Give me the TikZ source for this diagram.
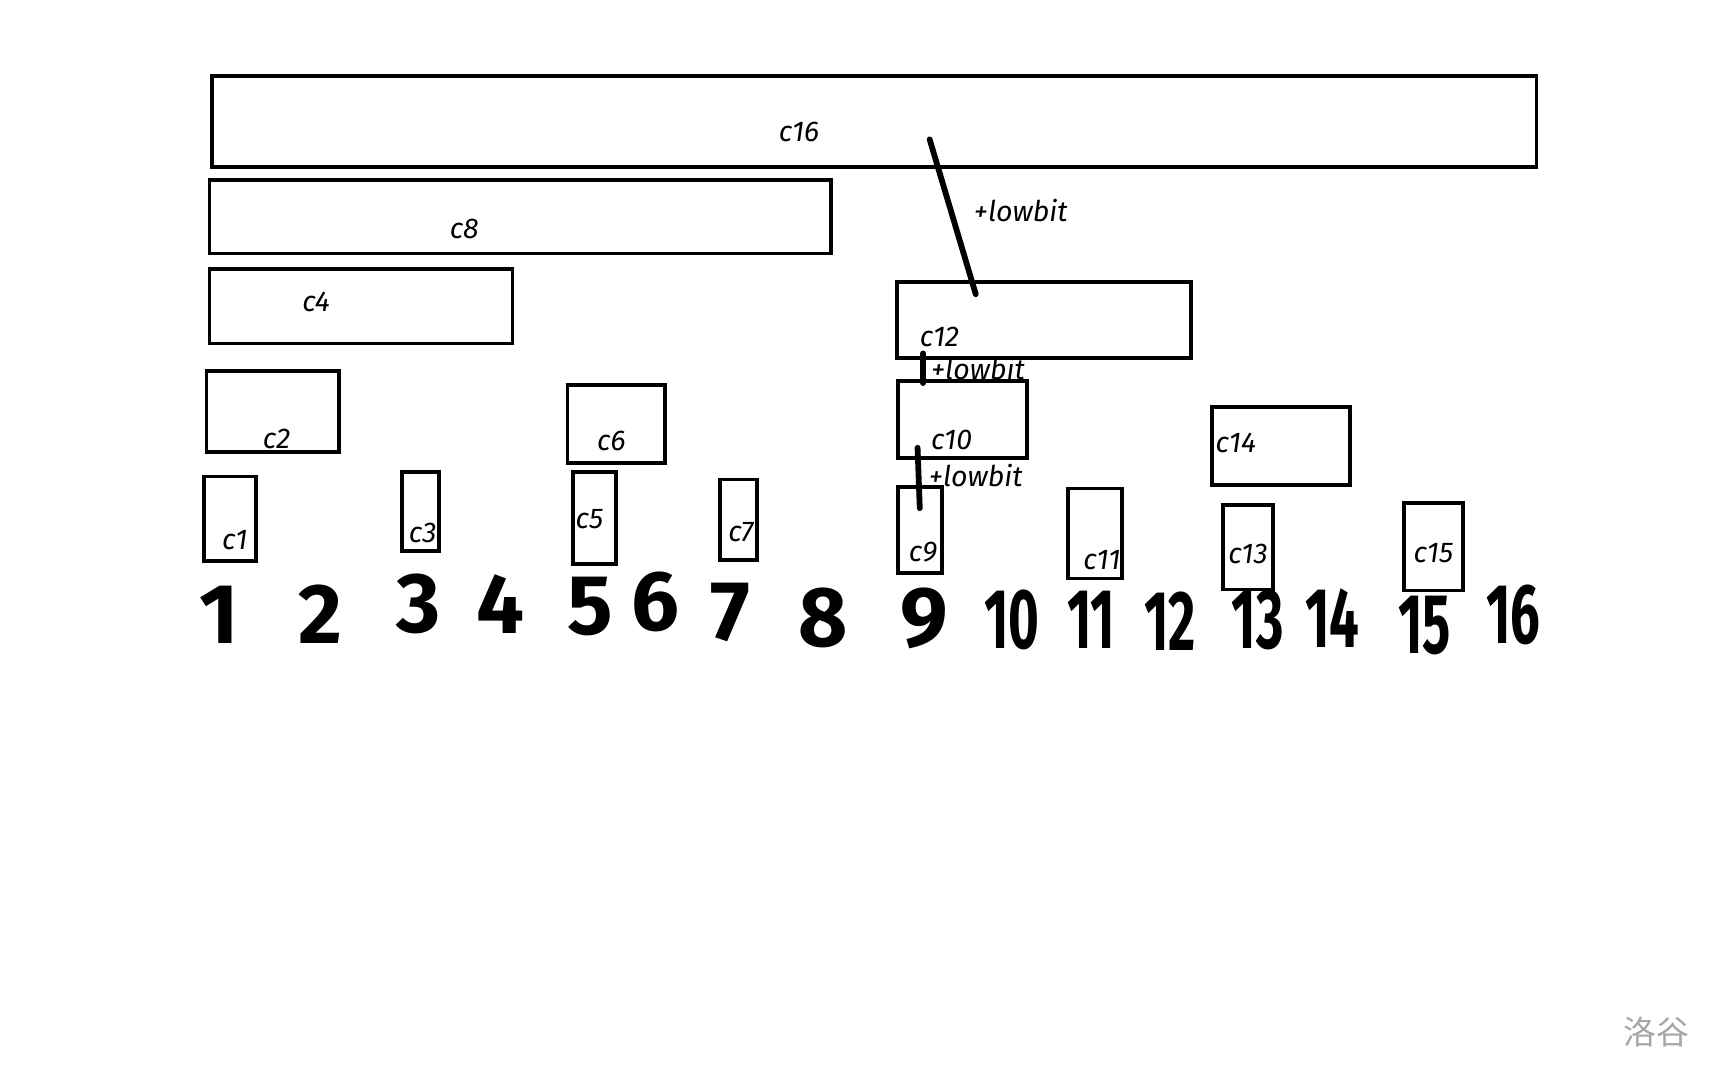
\documentclass[tikz,border=0pt]{standalone}
\usepackage{fontspec}
\setmainfont{Fira Sans}
\newfontfamily\cjk{Noto Sans CJK SC}
\usetikzlibrary{fit}
\begin{document}
\begin{tikzpicture}[x=0.01cm,y=-0.01cm,
  box/.style={draw=black,line width=0.95pt,inner sep=0pt,outer sep=0pt},
  lab/.style={font=\fontsize{7.4}{9}\selectfont\itshape,inner sep=0pt},
  conn/.style={line width=1.5pt,line cap=round},
  num/.style={font=\fontsize{22}{26}\selectfont\bfseries,inner sep=0pt},
  numtwo/.style={num,xscale=0.62,transform shape},
  wm/.style={font=\fontsize{8.5}{10}\selectfont\cjk,text=black!35,inner sep=0pt}]
\useasboundingbox (0,0) rectangle (1568,984);
\fill[white] (0,0) rectangle (1568,984);
% boxes
\node[box,fit={(193,69) (1400,152)}] (b16) {};
\node[box,fit={(191,164) (757,231)}] (b8) {};
\node[box,fit={(191,245) (467,313)}] (b4) {};
\node[box,fit={(188,338) (309,412)}] (b2) {};
\node[box,fit={(517,351) (606,422)}] (b6) {};
\node[box,fit={(186,434) (233,511)}] (b1) {};
\node[box,fit={(366,430) (400,502)}] (b3) {};
\node[box,fit={(522,430) (561,514)}] (b5) {};
\node[box,fit={(656,437) (690,510)}] (b7) {};
\node[box,fit={(817,257) (1085,326)}] (b12) {};
\node[box,fit={(818,347) (936,417)}] (b10) {};
\node[box,fit={(818,444) (858,522)}] (b9) {};
\node[box,fit={(973,445) (1022,527)}] (b11) {};
\node[box,fit={(1104,371) (1230,442)}] (b14) {};
\node[box,fit={(1114,460) (1160,537)}] (b13) {};
\node[box,fit={(1279,458) (1333,538)}] (b15) {};
% labels
\node[lab] (t16) at (728,120) {c16};
\node[lab] (t8) at (423,209) {c8};
\node[lab] (t4) at (288,275) {c4};
\node[lab] (t2) at (252,400) {c2};
\node[lab] (t6) at (557,402) {c6};
\node[lab] (t1) at (214,492) {c1};
\node[lab] (t3) at (385,486) {c3};
\node[lab] (t5) at (537,473) {c5};
\node[lab] (t7) at (675,485) {c7};
\node[lab] (t12) at (856,307) {c12};
\node[lab] (t10) at (867,401) {c10};
\node[lab] (t9) at (841,503) {c9};
\node[lab] (t11) at (1004,510) {c11};
\node[lab] (t14) at (1126,404) {c14};
\node[lab] (t13) at (1137,505) {c13};
\node[lab] (t15) at (1306,504) {c15};
% connectors
\coordinate (p1a) at (847,127);
\coordinate (p1b) at (889,268);
\coordinate (p2a) at (841,322);
\coordinate (p2b) at (841,349);
\coordinate (p3a) at (836,408);
\coordinate (p3b) at (838,463);
\draw[conn] (p1a) -- (p1b);
\draw[conn] (p2a) -- (p2b);
\draw[conn] (p3a) -- (p3b);
\node[lab] (lb1) at (930,192) {+lowbit};
\node[lab] (lb2) at (891,336) {+lowbit};
\node[lab] (lb3) at (889,433) {+lowbit};
% numbers
\node[num] (n1) at (200,560) {1};
\node[num] (n2) at (292,560) {2};
\node[num] (n3) at (381,550) {3};
\node[num] (n4) at (456,550) {4};
\node[num] (n5) at (538,553) {5};
\node[num] (n6) at (597,548) {6};
\node[num] (n7) at (665,558) {7};
\node[num] (n8) at (750,563) {8};
\node[num] (n9) at (842,563) {9};
\node[numtwo] (n10) at (922,565) {10};
\node[numtwo] (n11) at (994,565) {11};
\node[numtwo] (n12) at (1066,566) {12};
\node[numtwo] (n13) at (1146,565) {13};
\node[numtwo] (n14) at (1214,563) {14};
\node[numtwo] (n15) at (1298,570) {15};
\node[numtwo] (n16) at (1379,560) {16};
% watermark
\node[wm] (wm) at (1509,940) {洛谷};
\end{tikzpicture}
\end{document}
